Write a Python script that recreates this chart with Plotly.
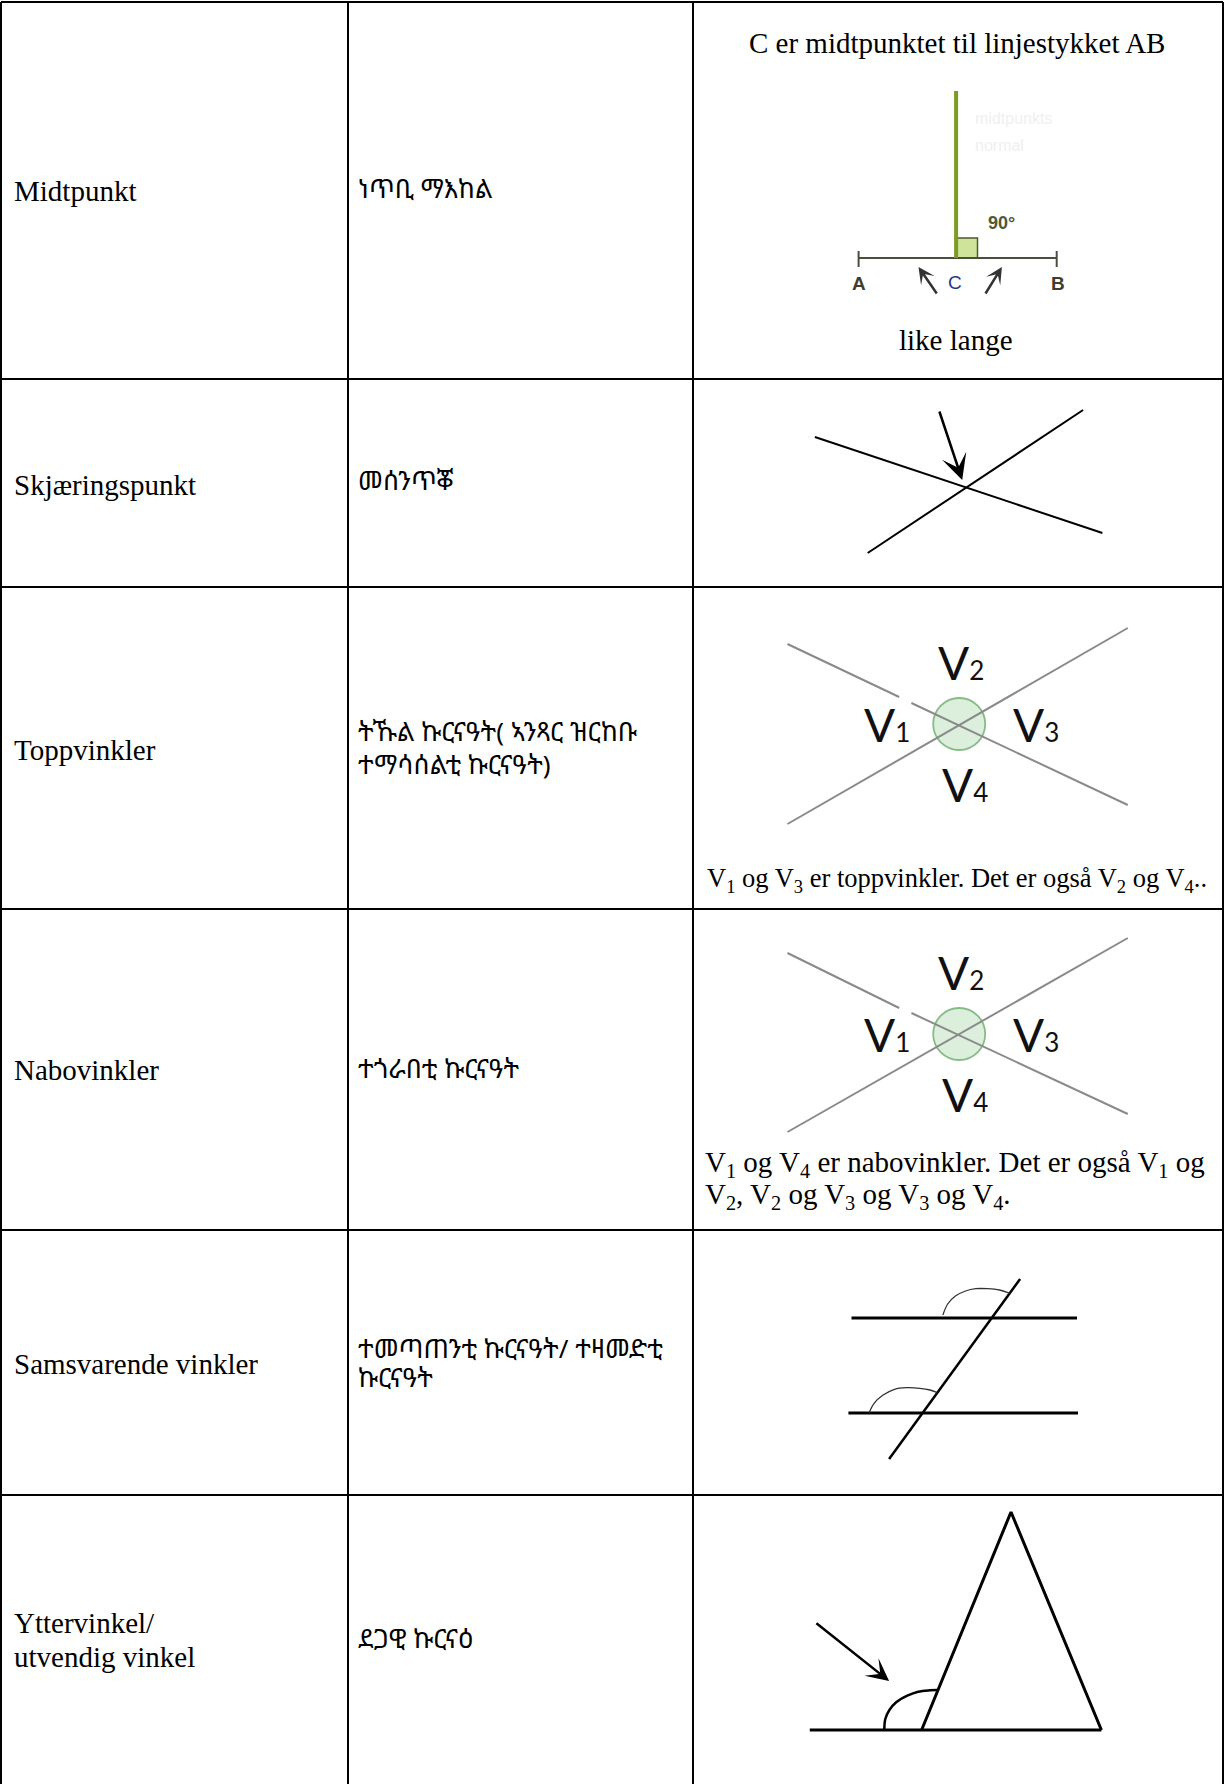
import plotly.graph_objects as go

W, H = 1224, 1784

# ---------------- table data ----------------
col_edges = [1, 348, 693, 1223]
row_edges = [2, 379, 587, 909, 1230, 1495]

terms_no = [["Midtpunkt"], ["Skjæringspunkt"], ["Toppvinkler"], ["Nabovinkler"],
            ["Samsvarende vinkler"], ["Yttervinkel/", "utvendig vinkel"]]
terms_no_y = [[191], [485], [750], [1070], [1364], [1623, 1657]]

terms_ti = [["ነጥቢ ማእከል"], ["መሰንጥቖ"], ["ትኹል ኩርናዓት( ኣንጻር ዝርከቡ", "ተማሳሰልቲ ኩርናዓት)"],
            ["ተጎራበቲ ኩርናዓት"], ["ተመጣጠንቲ ኩርናዓት/ ተዛመድቲ", "ኩርናዓት"], ["ደጋዊ ኩርናዕ"]]
terms_ti_y = [[188], [480], [731, 764], [1068], [1348, 1377], [1638]]

# ---------------- diagram geometry ----------------
# 1: midpoint
ab_x, ab_y = [858.6, 1056.7], [258, 258]
tickA_x, tickA_y = [858.6, 858.6], [251, 267]
tickB_x, tickB_y = [1056.7, 1056.7], [251, 267]
perp_x, perp_y = [956.1, 956.1], [91, 258]
sq_box = [957.1, 238, 977.5, 258]
labels_abc = ["A", "C", "B"]
labels_abc_x = [858.6, 955.1, 1057.7]
labels_abc_y = [283, 282, 283]
eq_ticks = [[(937.8, 295), (918.5, 267)], [(984.6, 295), (1001.9, 267)]]

# 2: intersection
sk_l1_x, sk_l1_y = [814.9, 1102.4], [437, 533]
sk_l2_x, sk_l2_y = [867.7, 1083.1], [553, 410]
sk_arrow = [(938.9, 410), (962.2, 480)]

# 3 & 4: vertical / adjacent angles
x_desc = [[787.5, 899.2, None, 911.4, 1127.8], [787.5, 899.2, None, 911.4, 1127.8]]
y_desc = [[644, 697, None, 703, 805], [953, 1008, None, 1013, 1114]]
x_asc = [[787.5, 1127.8], [787.5, 1127.8]]
y_asc = [[824, 628], [1132, 938]]
circ_c = [(959.2, 724), (959.2, 1034)]
circ_r = 26
v_digits = ["1", "2", "3", "4"]
v_dx = [-72, 2, 77, 6]
v_dy = [0, -62, 0, 60]

# 5: corresponding angles
par1_x, par1_y = [851.5, 1077], [1318, 1318]
par2_x, par2_y = [848.4, 1078], [1413, 1413]
trans_x, trans_y = [889.1, 1020.1], [1459, 1279]
arc1_x = [942.9, 947.7, 955.4, 965.6, 975.7, 987.6, 999.5, 1009.7]
arc1_y = [1315, 1304, 1296, 1291, 1288.7, 1288.7, 1290, 1293.3]
arc2_x = [869.1, 874.1, 882.7, 894.5, 906.3, 919.9, 930.1, 936.8]
arc2_y = [1412.7, 1403.3, 1395.3, 1389.3, 1387.7, 1388.3, 1390, 1392.3]

# 6: exterior angle
base_x, base_y = [809.8, 1101.4], [1730, 1730]
tri_x, tri_y = [921.6, 1011, 1101.4], [1730, 1512, 1730]
ext_arc_x = [884.3, 885.3, 889.4, 896.2, 907.3, 918.2, 930.1, 937.5]
ext_arc_y = [1730, 1719, 1710, 1702.3, 1695.7, 1691.7, 1690.3, 1690]
ext_arrow = [(814.9, 1622), (889.1, 1681)]

SERIF = "Liberation Serif, Times New Roman, serif"
ETH = "Noto Sans Ethiopic, Noto Serif Ethiopic, Abyssinica SIL, FreeSerif, serif"
SANS = "Lato, Open Sans, sans-serif"

fig = go.Figure()
shapes = []
ann = []


def line(xs, ys, color="black", width=2, shape="linear"):
    fig.add_trace(go.Scatter(x=xs, y=ys, mode="lines", line=dict(color=color, width=width, shape=shape),
                             hoverinfo="skip", showlegend=False))


def text(x, y, s, size=29, family=SERIF, color="black", xanchor="left", bold=False):
    if bold:
        s = "<b>" + s + "</b>"
    ann.append(dict(x=x, y=y, xref="x", yref="y", text=s, showarrow=False, xanchor=xanchor,
                    yanchor="middle", font=dict(size=size, family=family, color=color)))


def arrow(tail, head, width=2.5, size=1.5, head_style=3, color="black"):
    ann.append(dict(x=head[0], y=head[1], ax=tail[0], ay=tail[1], xref="x", yref="y", axref="x", ayref="y",
                    text="", showarrow=True, arrowhead=head_style, arrowsize=size, arrowwidth=width,
                    arrowcolor=color, standoff=0, startstandoff=0))


# table borders
for x in col_edges:
    shapes.append(dict(type="line", x0=x, x1=x, y0=row_edges[0], y1=H, xref="x", yref="y",
                       line=dict(color="black", width=2), layer="above"))
for y in row_edges:
    shapes.append(dict(type="line", x0=col_edges[0], x1=col_edges[-1], y0=y, y1=y, xref="x", yref="y",
                       line=dict(color="black", width=2), layer="above"))

# first two columns
for lines_, ys in zip(terms_no, terms_no_y):
    for s, y in zip(lines_, ys):
        text(12, y, s, size=29)
for lines_, ys in zip(terms_ti, terms_ti_y):
    for s, y in zip(lines_, ys):
        text(356, y, s, size=26, family=ETH)

# ---- diagram 1
text(957, 43, "C er midtpunktet til linjestykket AB", size=29, xanchor="center")
text(973, 118, "midtpunkts", size=16, family="Liberation Sans", color="#f0f0f0")
text(973, 145, "normal", size=16, family="Liberation Sans", color="#f0f0f0")
shapes.append(dict(type="rect", x0=sq_box[0], y0=sq_box[1], x1=sq_box[2], y1=sq_box[3], xref="x", yref="y",
                   fillcolor="#cfe49a", line=dict(color="#4d5a2c", width=1.5), layer="below"))
line(ab_x, ab_y, color="#4a4e3c", width=2)
line(tickA_x, tickA_y, color="#4a4e3c", width=2)
line(tickB_x, tickB_y, color="#4a4e3c", width=2)
line(perp_x, perp_y, color="#7c9c22", width=4)
text(1001, 223, "90°", size=18, family="Liberation Sans", color="#4f5a33", xanchor="center", bold=True)
abc_colors = ["#3c3f30", "#22388a", "#3c3f30"]
for s, x, y, c in zip(labels_abc, labels_abc_x, labels_abc_y, abc_colors):
    text(x, y, s, size=19, family="Liberation Sans", color=c, xanchor="center", bold=(s != "C"))
for t, h in eq_ticks:
    arrow(t, h, width=2.5, size=1.1, head_style=3, color="#333333")
text(956, 340, "like lange", size=29, xanchor="center")

# ---- diagram 2
line(sk_l1_x, sk_l1_y, width=2)
line(sk_l2_x, sk_l2_y, width=2)
arrow(sk_arrow[0], sk_arrow[1], width=2.5, size=1.7, head_style=3)

# ---- diagrams 3 & 4
for i in range(2):
    cx, cy = circ_c[i]
    shapes.append(dict(type="circle", x0=cx - circ_r, x1=cx + circ_r, y0=cy - circ_r, y1=cy + circ_r,
                       xref="x", yref="y", fillcolor="#dcefdc", line=dict(color="#86bb86", width=1.8),
                       layer="below"))
    line(x_desc[i], y_desc[i], color="#8a8a8a", width=2)
    line(x_asc[i], y_asc[i], color="#8a8a8a", width=2)
    for d, dx, dy in zip(v_digits, v_dx, v_dy):
        label = "V<span style='font-size:26px'>" + d + "</span>"
        text(cx + dx, cy + dy, label, size=46, family=SANS, color="#111111", xanchor="center")

text(957, 880, "V<sub>1</sub> og V<sub>3</sub> er toppvinkler. Det er også V<sub>2</sub> og V<sub>4</sub>..",
     size=26.5, xanchor="center")
text(703, 1164, "V<sub>1</sub> og V<sub>4</sub> er nabovinkler. Det er også V<sub>1</sub> og", size=29)
text(703, 1196, "V<sub>2</sub>, V<sub>2</sub> og V<sub>3</sub> og V<sub>3</sub> og V<sub>4</sub>.", size=29)

# ---- diagram 5
line(par1_x, par1_y, width=3)
line(par2_x, par2_y, width=3)
line(trans_x, trans_y, width=2.5)
line(arc1_x, arc1_y, color="#333333", width=1.3, shape="spline")
line(arc2_x, arc2_y, color="#333333", width=1.3, shape="spline")

# ---- diagram 6
line(base_x, base_y, width=3)
line(tri_x, tri_y, width=3)
line(ext_arc_x, ext_arc_y, width=2.5, shape="spline")
arrow(ext_arrow[0], ext_arrow[1], width=2.5, size=1.5, head_style=3)

fig.update_layout(
    width=W, height=H, margin=dict(l=0, r=0, t=0, b=0),
    paper_bgcolor="white", plot_bgcolor="white",
    xaxis=dict(range=[0, W], visible=False, fixedrange=True),
    yaxis=dict(range=[H, 0], visible=False, fixedrange=True),
    shapes=shapes, annotations=ann, showlegend=False,
)
fig.write_html("out.html", config={"displayModeBar": False},
               post_script="document.body.style.margin='0px';document.body.style.overflow='hidden';")
